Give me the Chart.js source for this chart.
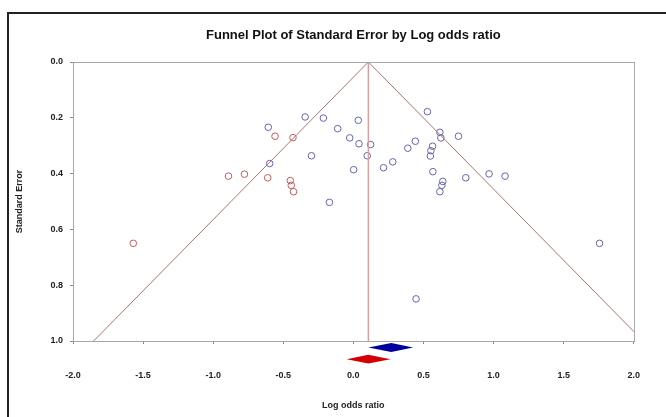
<!DOCTYPE html>
<html>
<head>
<meta charset="utf-8">
<script src="https://cdn.jsdelivr.net/npm/chart.js@4/dist/chart.umd.min.js"></script>
<style>
  html, body { margin: 0; padding: 0; background: #ffffff; overflow: hidden; }
  #wrap { position: relative; width: 666px; height: 417px; }
  #frame { position: absolute; left: 7px; top: 12px; width: 700px; height: 500px;
           border-left: 2px solid #222; border-top: 2px solid #222; }
  #canvas1 { position: absolute; left: 0; top: 0; }
</style>
</head>
<body>
<div id="wrap">
  <div id="frame"></div>
  <canvas id="canvas1" width="666" height="417"></canvas>
</div>
<script>
// Observed studies (log odds ratio, standard error)
const observedLogOR = [-0.607, -0.344, -0.214, -0.112, 0.035, -0.026, 0.040, 0.123, 0.099, -0.299,
    -0.597, 0.002, -0.171, 0.215, 0.281, 0.388, 0.442, 0.528, 0.617, 0.624,
    0.750, 0.565, 0.553, 0.549, 0.567, 0.638, 0.631, 0.617, 0.802, 0.968,
    1.082, 1.756, 0.447]
const observedSE = [0.234, 0.197, 0.201, 0.239, 0.209, 0.272, 0.293, 0.296, 0.336, 0.336,
    0.364, 0.386, 0.503, 0.379, 0.358, 0.309, 0.284, 0.178, 0.252, 0.272,
    0.266, 0.302, 0.318, 0.337, 0.393, 0.428, 0.442, 0.465, 0.415, 0.401,
    0.409, 0.650, 0.849]

// Imputed studies (trim and fill)
const imputedLogOR = [-0.559, -0.431, -0.891, -0.777, -0.611, -0.450, -0.443, -0.427, -1.570]
const imputedSE = [0.266, 0.271, 0.409, 0.402, 0.415, 0.425, 0.442, 0.465, 0.650]

// Funnel: combined estimate and 95% limits
const funnelCenter = 0.107
const funnelSE = [0, 1]

// Summary diamonds: observed (blue) and adjusted (red)
const diamondLow = [0.107, -0.048]
const diamondMid = [0.270, 0.106]
const diamondHigh = [0.426, 0.265]
const diamondRow = [1.023, 1.065]

// Tick values
const xTicks = [-2.0, -1.5, -1.0, -0.5, 0.0, 0.5, 1.0, 1.5, 2.0]
const yTicks = [0.0, 0.2, 0.4, 0.6, 0.8, 1.0]

const FONT = "'Liberation Sans', Arial, sans-serif"

function toPoints(xs, ys) {
    return xs.map((x, i) => ({ x: x, y: ys[i] }))
}

const funnelLines = [
    { x: funnelCenter - 1.96 * funnelSE[1], y: funnelSE[1] },
    { x: funnelCenter, y: funnelSE[0] },
    { x: funnelCenter + 1.96 * funnelSE[1], y: funnelSE[1] }
]
const centerLine = [
    { x: funnelCenter, y: funnelSE[0] },
    { x: funnelCenter, y: funnelSE[1] }
]

// Box around the plot area + summary diamonds below it
const extrasPlugin = {
    id: 'extras',
    afterDatasetsDraw(chart) {
        const ctx = chart.ctx
        const a = chart.chartArea
        ctx.save()
        ctx.strokeStyle = '#a8a8a8'
        ctx.lineWidth = 1
        ctx.strokeRect(Math.round(a.left) + 0.5, Math.round(a.top) + 0.5,
            Math.round(a.right - a.left), Math.round(a.bottom - a.top))

        const xs = chart.scales.x
        const ys = chart.scales.y
        const colors = ['#00009c', '#d40000']
        for (let i = 0; i < diamondMid.length; i++) {
            const yc = ys.getPixelForValue(diamondRow[i])
            const h = ys.getPixelForValue(diamondRow[i] + 0.016) - yc
            ctx.beginPath()
            ctx.moveTo(xs.getPixelForValue(diamondLow[i]), yc)
            ctx.lineTo(xs.getPixelForValue(diamondMid[i]), yc - h)
            ctx.lineTo(xs.getPixelForValue(diamondHigh[i]), yc)
            ctx.lineTo(xs.getPixelForValue(diamondMid[i]), yc + h)
            ctx.closePath()
            ctx.fillStyle = colors[i]
            ctx.fill()
        }
        ctx.restore()
    }
}

const config = {
    type: 'scatter',
    data: {
        datasets: [
            {
                label: 'Funnel',
                type: 'line',
                data: funnelLines,
                borderColor: '#b87070',
                borderWidth: 1,
                pointRadius: 0,
                fill: false,
                tension: 0
            },
            {
                label: 'Center',
                type: 'line',
                data: centerLine,
                borderColor: '#d4a0a0',
                borderWidth: 1.5,
                pointRadius: 0,
                fill: false,
                tension: 0
            },
            {
                label: 'Observed',
                data: toPoints(observedLogOR, observedSE),
                pointStyle: 'circle',
                pointRadius: 3.3,
                borderWidth: 1,
                borderColor: '#6464b0',
                backgroundColor: 'rgba(0,0,0,0)'
            },
            {
                label: 'Imputed',
                data: toPoints(imputedLogOR, imputedSE),
                pointStyle: 'circle',
                pointRadius: 3.3,
                borderWidth: 1,
                borderColor: '#c45a5a',
                backgroundColor: 'rgba(0,0,0,0)'
            }
        ]
    },
    options: {
        responsive: false,
        animation: false,
        events: [],
        layout: {
            padding: { top: 28, left: 10, right: 30, bottom: 0 }
        },
        plugins: {
            legend: { display: false },
            tooltip: { enabled: false },
            title: {
                display: true,
                fullSize: false,
                text: 'Funnel Plot of Standard Error by Log odds ratio',
                color: '#111',
                font: { size: 13, weight: 'bold', family: FONT, lineHeight: 1.2 },
                padding: { top: 0, bottom: 18.4 }
            }
        },
        scales: {
            x: {
                type: 'linear',
                min: -2,
                max: 2,
                afterBuildTicks: (scale) => { scale.ticks = xTicks.map(v => ({ value: v })) },
                afterFit: (scale) => { scale.height = 76 },
                border: { display: false },
                grid: {
                    drawOnChartArea: false,
                    drawTicks: true,
                    tickLength: 3,
                    color: '#888'
                },
                ticks: {
                    padding: 26,
                    color: '#222',
                    font: { size: 9, weight: 'bold', family: FONT },
                    maxRotation: 0,
                    callback: (v) => v.toFixed(1)
                },
                title: {
                    display: true,
                    text: 'Log odds ratio',
                    color: '#222',
                    font: { size: 9, weight: 'bold', family: FONT, lineHeight: 1.2 },
                    padding: { top: 0, bottom: 5.6 }
                }
            },
            y: {
                type: 'linear',
                reverse: true,
                min: 0,
                max: 1,
                afterBuildTicks: (scale) => { scale.ticks = yTicks.map(v => ({ value: v })) },
                afterFit: (scale) => { scale.width = 63 },
                border: { display: false },
                grid: {
                    drawOnChartArea: false,
                    drawTicks: true,
                    tickLength: 3,
                    color: '#888'
                },
                ticks: {
                    padding: 7,
                    color: '#222',
                    font: { size: 9, weight: 'bold', family: FONT },
                    callback: (v) => v.toFixed(1)
                },
                title: {
                    display: true,
                    text: 'Standard Error',
                    color: '#222',
                    font: { size: 9, weight: 'bold', family: FONT, lineHeight: 1.2 },
                    padding: { top: 4.6, bottom: 0 }
                }
            }
        }
    },
    plugins: [extrasPlugin]
}

const canvas = document.getElementById('canvas1')
new Chart(canvas.getContext('2d'), config)
</script>
</body>
</html>
